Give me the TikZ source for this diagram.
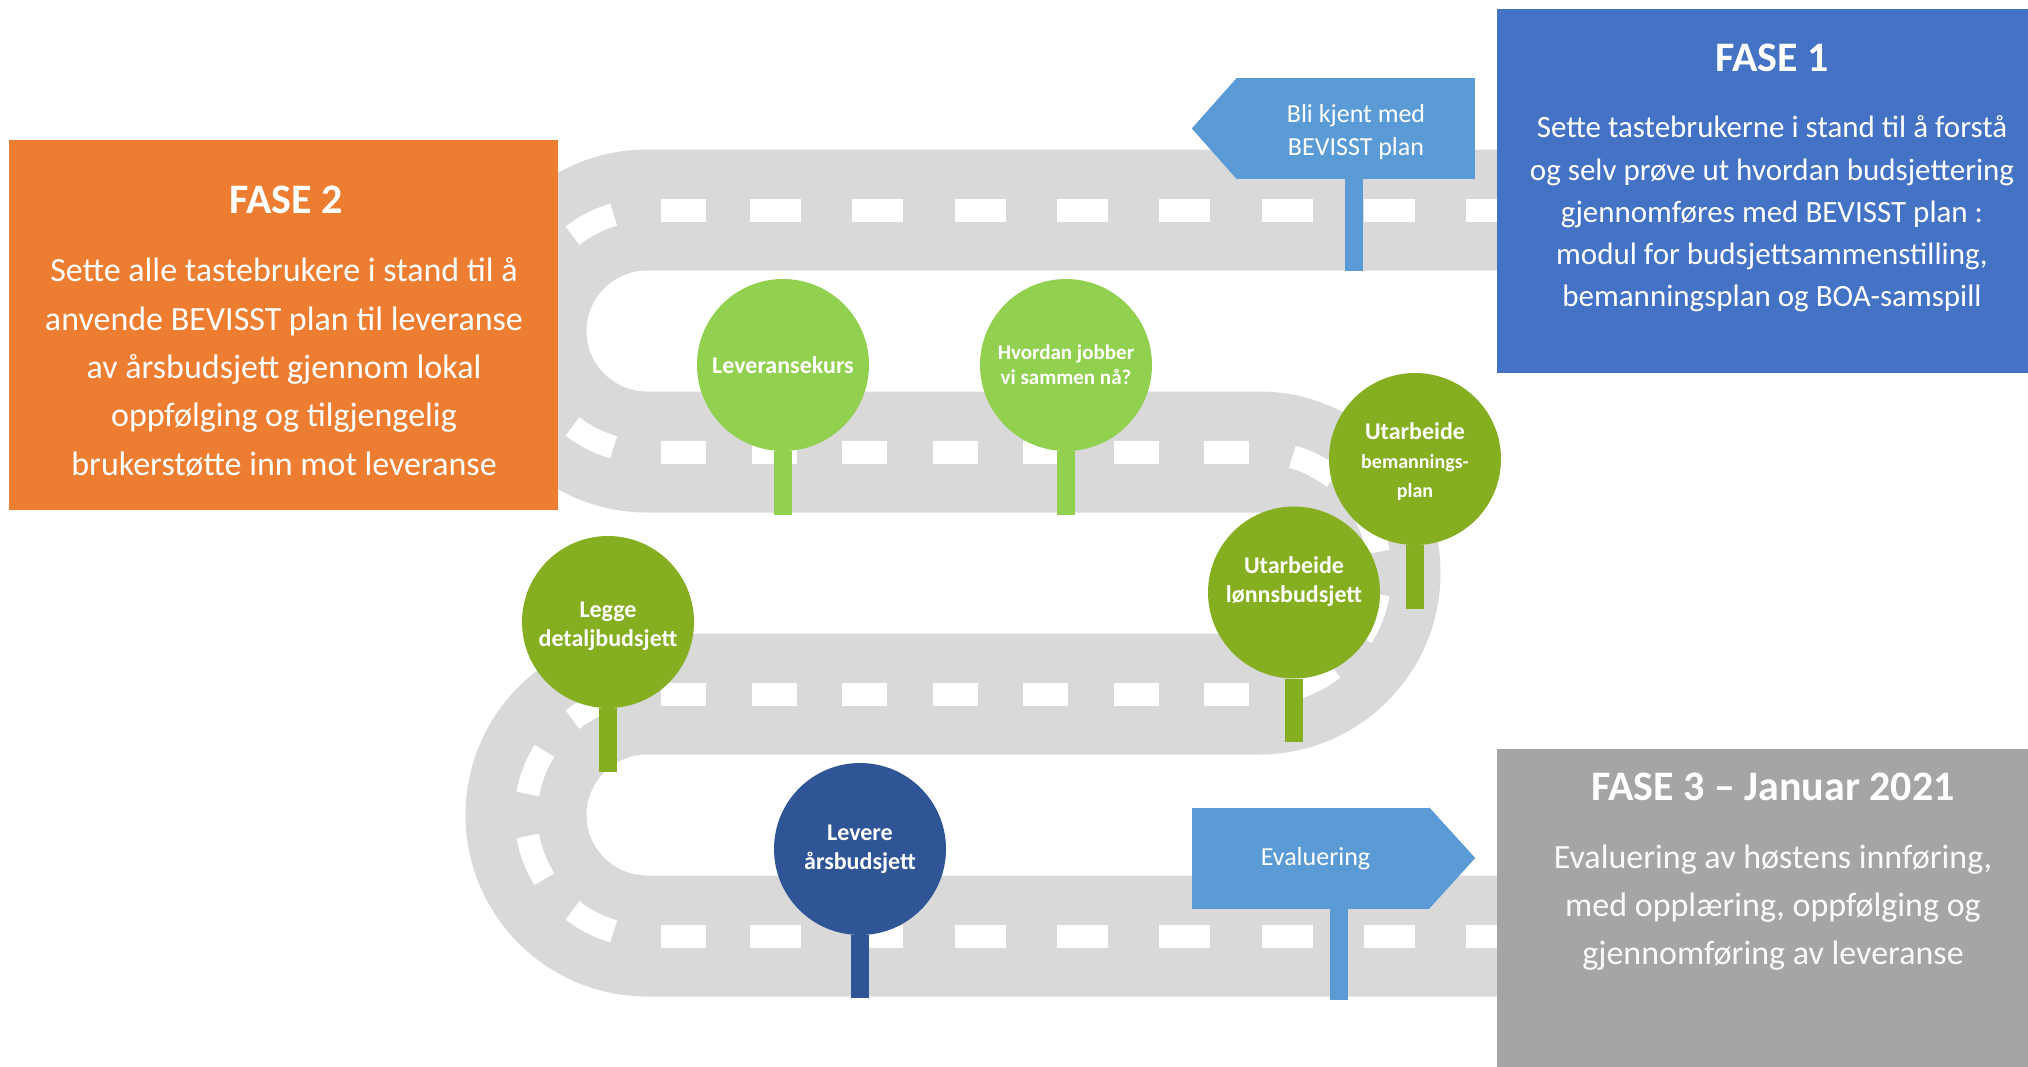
\documentclass[tikz,border=0pt]{standalone}
\usepackage{fontspec}
\setmainfont{Carlito}
\definecolor{roadgrey}{RGB}{217,217,217}
\definecolor{faseblue}{RGB}{68,114,196}
\definecolor{faseorange}{RGB}{237,125,49}
\definecolor{fasegrey}{RGB}{165,165,165}
\definecolor{signblue}{RGB}{91,155,213}
\definecolor{leafgreen}{RGB}{146,208,80}
\definecolor{olivegreen}{RGB}{133,174,32}
\definecolor{deepblue}{RGB}{47,85,151}
\usetikzlibrary{calc}

\begin{document}
\begin{tikzpicture}[x=1pt, y=-1pt,
  road/.style={roadgrey, line width=121},
  lane/.style={white, line width=23},
  phasebox/.style={fill=#1, inner sep=0, minimum width=560, anchor=north west},
  phasetitle/.style={text=white, inner sep=0, font=\bfseries\fontsize{42}{50}\selectfont},
  phasetext/.style={text=white, inner sep=0, align=center},
  pin/.style={circle, fill=#1, minimum size=172, inner sep=0, text=white, align=center, font=\bfseries\fontsize{24}{29}\selectfont},
  stick/.style={#1, line width=18},
  sign/.style={fill=signblue, minimum height=101, inner sep=0, text=white, align=center, font=\fontsize{26}{33}\selectfont}]

  \useasboundingbox (0,0) rectangle (2028,1066);

  \draw[road] (1520,210) -- (647,210) arc[start angle=270, end angle=90, radius=121]
    -- (1259,452) arc[start angle=-90, end angle=90, radius=121]
    -- (647,694) arc[start angle=270, end angle=90, radius=121] -- (1520,936);

  \foreach \y in {210,936} {
    \fill[white] (661,\y-11.5) rectangle ++(45,23);
    \foreach \i in {0,...,7}
      \fill[white] (750+102.3*\i,\y-11.5) rectangle ++(51,23);
  }
  \foreach \y in {452,694}
    \foreach \i in {0,...,6}
      \fill[white] (661+90.5*\i,\y-11.5) rectangle ++(45,23);
  \foreach \c in {331,815}
    \foreach \a in {106,148,190,232}
      \draw[lane] (647,\c) ++(\a:121) arc[start angle=\a, end angle=\a+22, radius=121];
  \foreach \a in {-74,-32,10,52}
    \draw[lane] (1259,573) ++(\a:121) arc[start angle=\a, end angle=\a+22, radius=121];

  \node[phasebox=faseorange, minimum width=549, minimum height=370] (fase2) at (9,140) {};
  \node[phasebox=faseblue, minimum height=364] (fase1) at (1497,9) {};
  \node[phasebox=fasegrey, minimum height=330] (fase3) at (1497,749) {};

  \node[phasetitle] (fase2title) at (286,200) {FASE 2};
  \node[phasetext, font=\fontsize{34}{48.3}\selectfont] (fase2text) at (284,367)
    {Sette alle tastebrukere i stand til å\\anvende BEVISST plan til leveranse\\av årsbudsjett gjennom lokal\\oppfølging og tilgjengelig\\brukerstøtte inn mot leveranse};
  \node[phasetitle] (fase1title) at (1772,58) {FASE 1};
  \node[phasetext, font=\fontsize{31}{42.3}\selectfont] (fase1text) at (1772,214)
    {Sette tastebrukerne i stand til å forstå\\og selv prøve ut hvordan budsjettering\\gjennomføres med BEVISST plan :\\modul for budsjettsammenstilling,\\bemanningsplan og BOA-samspill};
  \node[phasetitle] (fase3title) at (1773,787) {FASE 3 – Januar 2021};
  \node[phasetext, text=white!94!fasegrey, font=\fontsize{34}{48}\selectfont] (fase3text) at (1773,908)
    {Evaluering av høstens innføring,\\med opplæring, oppfølging og\\gjennomføring av leveranse};

  \node[sign, minimum width=238] (blikjent) at (1356,128.5) {\\[-8pt]Bli kjent med\\BEVISST plan};
  \fill[signblue] (blikjent.north west) -- ($(blikjent.west)+(-45,0)$) -- (blikjent.south west) -- cycle;
  \coordinate (blikjentfoot) at (1353.5,271);
  \draw[stick=signblue] (blikjent.south -| blikjentfoot) -- (blikjentfoot);

  \node[sign, minimum width=237, text depth=4pt] (evaluering) at (1310.5,858) {\hspace{10pt}Evaluering};
  \fill[signblue] (evaluering.north east) -- ($(evaluering.east)+(46,0)$) -- (evaluering.south east) -- cycle;
  \coordinate (evalueringfoot) at (1338.5,1000);
  \draw[stick=signblue] (evaluering.south -| evalueringfoot) -- (evalueringfoot);

  \node[pin=leafgreen] (kurs) at (783,365) {Leveransekurs};
  \node[pin=leafgreen, font=\bfseries\fontsize{21}{25}\selectfont] (samarbeid) at (1066,365) {Hvordan jobber\\vi sammen nå?};
  \node[pin=olivegreen] (bemanning) at (1415,459)
    {\\[-6pt]Utarbeide\\\fontsize{20}{26}\selectfont bemannings-\\\fontsize{20}{26}\selectfont plan};
  \node[pin=olivegreen] (lonn) at (1294,592.5) {Utarbeide\\lønnsbudsjett\\[-4pt]\mbox{}};
  \node[pin=olivegreen] (detalj) at (608,622) {\\[-4pt]Legge\\detaljbudsjett};
  \node[pin=deepblue] (levere) at (860,849) {Levere\\årsbudsjett};

  \coordinate (kursfoot) at (783,515);
  \coordinate (samarbeidfoot) at (1066,515);
  \coordinate (bemanningfoot) at (1415,609);
  \coordinate (lonnfoot) at (1294,742);
  \coordinate (detaljfoot) at (608,772);
  \coordinate (leverefoot) at (860,998);
  \draw[stick=leafgreen] (kurs.south) -- (kursfoot);
  \draw[stick=leafgreen] (samarbeid.south) -- (samarbeidfoot);
  \draw[stick=olivegreen] (bemanning.south) -- (bemanningfoot);
  \draw[stick=olivegreen] (lonn.south) -- (lonnfoot);
  \draw[stick=olivegreen] (detalj.south) -- (detaljfoot);
  \draw[stick=deepblue] (levere.south) -- (leverefoot);
\end{tikzpicture}
\end{document}
